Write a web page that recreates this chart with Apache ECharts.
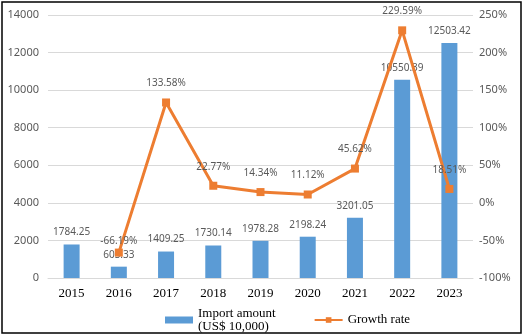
<!DOCTYPE html>
<html><head><meta charset="utf-8">
<script src="https://cdn.jsdelivr.net/npm/echarts@6/dist/echarts.min.js"></script>
<style>html,body{margin:0;padding:0;background:#fff}#c{width:525px;height:336px}</style>
</head><body><div id="c"></div>
<script>
const categories = ['2015','2016','2017','2018','2019','2020','2021','2022','2023'];
const importAmount = [1784.25, 603.33, 1409.25, 1730.14, 1978.28, 2198.24, 3201.05, 10550.39, 12503.42];
const growthRate = [null, -66.19, 133.58, 22.77, 14.34, 11.12, 45.62, 229.59, 18.51];
const leftTicks = {min: 0, max: 14000, interval: 2000};
const rightTicks = {min: -100, max: 250, interval: 50};

const chart = echarts.init(document.getElementById('c'), null, {renderer: 'canvas'});
const labelFont = {fontSize: 10, color: '#595959', fontFamily: 'Noto Sans'};
chart.setOption({
  animation: false,
  backgroundColor: '#fff',
  graphic: [{type: 'rect', shape: {x: 2, y: 2, width: 519, height: 331},
    style: {fill: 'none', stroke: '#000', lineWidth: 1.5}, silent: true}],
  grid: {left: 48, right: 52, top: 15, bottom: 58},
  legend: {
    left: 160, top: 302, itemGap: 38, itemWidth: 28, itemHeight: 7,
    textStyle: {fontFamily: 'Liberation Serif', fontSize: 13, color: '#000', lineHeight: 13},
    data: [{name: 'Import amount\n(US$ 10,000)', icon: 'rect'}, {name: 'Growth rate'}]
  },
  xAxis: {
    type: 'category', data: categories,
    axisLine: {lineStyle: {color: '#D9D9D9'}}, axisTick: {show: false},
    axisLabel: {fontFamily: 'Liberation Serif', fontSize: 13, color: '#000', margin: 9}
  },
  yAxis: [
    {type: 'value', min: leftTicks.min, max: leftTicks.max, interval: leftTicks.interval,
      axisLabel: {fontFamily: 'Noto Sans', fontSize: 11, color: '#595959', margin: 9,
        formatter: v => String(v)},
      splitLine: {lineStyle: {color: '#D9D9D9'}}, axisLine: {show: false}, axisTick: {show: false}},
    {type: 'value', min: rightTicks.min, max: rightTicks.max, interval: rightTicks.interval,
      axisLabel: {fontFamily: 'Noto Sans', fontSize: 11, color: '#595959', margin: 6, formatter: '{value}%'},
      splitLine: {show: false}, axisLine: {show: false}, axisTick: {show: false}}
  ],
  series: [
    {name: 'Import amount\n(US$ 10,000)', type: 'bar', barWidth: 16, yAxisIndex: 0,
      itemStyle: {color: '#5B9BD5'}, data: importAmount,
      label: Object.assign({show: true, position: 'top', distance: 7,
        formatter: p => p.value.toFixed(2)}, labelFont)},
    {name: 'Growth rate', type: 'line', yAxisIndex: 1, z: 3,
      lineStyle: {color: '#ED7D31', width: 3}, itemStyle: {color: '#ED7D31'},
      symbol: 'rect', symbolSize: 8,
      data: growthRate.map((v, i) => v === null ? '-' :
        (i === 1 ? {value: v, label: {distance: 2}} : v)),
      label: Object.assign({show: true, position: 'top', distance: 10,
        formatter: p => p.value.toFixed(2) + '%'}, labelFont)}
  ]
});
</script></body></html>
